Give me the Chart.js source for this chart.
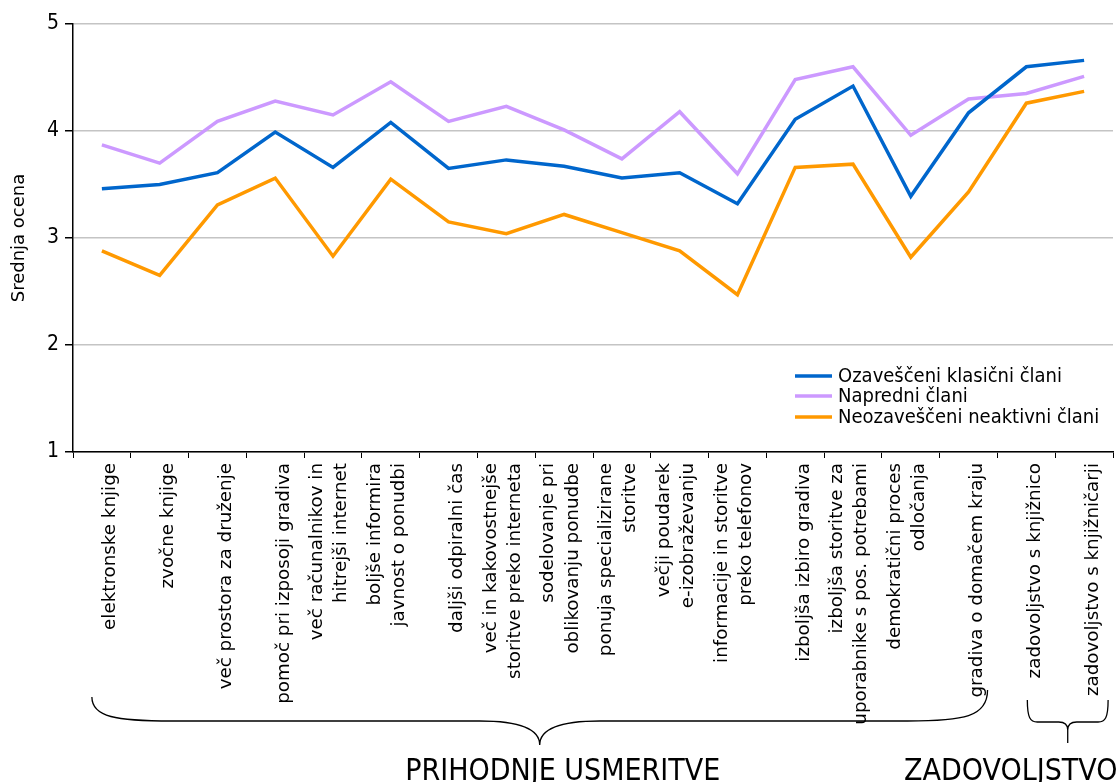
<!DOCTYPE html>
<html>
<head>
<meta charset="utf-8">
<script src="https://cdn.jsdelivr.net/npm/chart.js@4/dist/chart.umd.min.js"></script>
<style>
  html, body { margin: 0; padding: 0; background: #ffffff; }
  #wrap { width: 1119px; height: 782px; position: relative; }
</style>
</head>
<body>
<div id="wrap"><canvas id="chart" width="1119" height="782"></canvas></div>
<script>
// Categories (multi-line labels as arrays)
const categories = [
  'elektronske knjige',
  'zvočne knjige',
  'več prostora za druženje',
  'pomoč pri izposoji gradiva',
  ['več računalnikov in', 'hitrejši internet'],
  ['boljše informira', 'javnost o ponudbi'],
  'daljši odpiralni čas',
  ['več in kakovostnejše', 'storitve preko interneta'],
  ['sodelovanje pri', 'oblikovanju ponudbe'],
  ['ponuja specializirane', 'storitve'],
  ['večji poudarek', 'e-izobraževanju'],
  ['informacije in storitve', 'preko telefonov'],
  'izboljša izbiro gradiva',
  ['izboljša storitve za', 'uporabnike s pos. potrebami'],
  ['demokratični proces', 'odločanja'],
  'gradiva o domačem kraju',
  'zadovoljstvo s knjižnico',
  'zadovoljstvo s knjižničarji'
];

// Average scores per member segment
const ozavesceniKlasicni = [3.46, 3.50, 3.61, 3.99, 3.66, 4.08, 3.65, 3.73, 3.67, 3.56, 3.61, 3.32, 4.11, 4.42, 3.39, 4.17, 4.60, 4.66];
const napredni           = [3.87, 3.70, 4.09, 4.28, 4.15, 4.46, 4.09, 4.23, 4.01, 3.74, 4.18, 3.60, 4.48, 4.60, 3.96, 4.30, 4.35, 4.51];
const neozavesceni       = [2.88, 2.65, 3.31, 3.56, 2.83, 3.55, 3.15, 3.04, 3.22, 3.05, 2.88, 2.47, 3.66, 3.69, 2.82, 3.43, 4.26, 4.37];

const seriesNames = ['Ozaveščeni klasični člani', 'Napredni člani', 'Neozaveščeni neaktivni člani'];

// Groups of categories (first index, last index)
const groupNames = ['PRIHODNJE USMERITVE', 'ZADOVOLJSTVO'];
const groupFirst = [0, 16];
const groupLast  = [15, 17];

const yTicks = [1, 2, 3, 4, 5];

const FONT_ROT = "'DejaVu Sans', sans-serif";
const FONT_HOR = "'DejaVu Sans Condensed', 'DejaVu Sans', sans-serif";

// Legend inside the plot area plus the category group braces below the axis
const annotations = {
  id: 'annotations',
  afterDraw(chart) {
    const ctx = chart.ctx;
    const area = chart.chartArea;
    const xs = chart.scales.x;

    // legend
    ctx.save();
    ctx.font = '20px ' + FONT_HOR;
    ctx.textBaseline = 'middle';
    ctx.textAlign = 'left';
    const lx = area.right - 318;
    const rows = [area.bottom - 76, area.bottom - 56, area.bottom - 35];
    chart.data.datasets.forEach((ds, i) => {
      ctx.strokeStyle = ds.borderColor;
      ctx.lineWidth = 3.5;
      ctx.beginPath();
      ctx.moveTo(lx, rows[i]);
      ctx.lineTo(lx + 37, rows[i]);
      ctx.stroke();
      ctx.fillStyle = '#000';
      ctx.fillText(ds.label, lx + 43, rows[i] + 1);
    });
    ctx.restore();

    // braces
    const braceSpec = [
      { l: -10, r: 19, top: 697, topR: 690, mid: 721, tip: 745, cw: 80, tw: 60, th: 24, tx: 23 },
      { l: 1, r: 24, top: 700, topR: 700, mid: 722, tip: 743, cw: 10, tw: 9, th: 8, tx: -57 }
    ];
    ctx.save();
    ctx.strokeStyle = '#000';
    ctx.lineWidth = 1.3;
    groupNames.forEach((name, g) => {
      const s = braceSpec[g];
      const x0 = xs.getPixelForValue(groupFirst[g]) + s.l;
      const x1 = xs.getPixelForValue(groupLast[g]) + s.r;
      const xt = (x0 + x1) / 2;
      ctx.beginPath();
      ctx.moveTo(x0, s.top);
      ctx.bezierCurveTo(x0, s.mid - 4, x0 + s.cw * 0.3, s.mid, x0 + s.cw, s.mid);
      ctx.lineTo(xt - s.tw, s.mid);
      ctx.bezierCurveTo(xt - s.tw * 0.35, s.mid, xt, s.mid + s.th * 0.3, xt, s.mid + s.th);
      ctx.lineTo(xt, s.tip);
      ctx.moveTo(xt, s.mid + s.th);
      ctx.bezierCurveTo(xt, s.mid + s.th * 0.3, xt + s.tw * 0.35, s.mid, xt + s.tw, s.mid);
      ctx.lineTo(x1 - s.cw, s.mid);
      ctx.bezierCurveTo(x1 - s.cw * 0.3, s.mid, x1, s.mid - 4, x1, s.topR);
      ctx.stroke();

      ctx.fillStyle = '#000';
      ctx.font = '30px ' + FONT_HOR;
      ctx.textAlign = 'center';
      ctx.textBaseline = 'alphabetic';
      ctx.fillText(name, xt + s.tx, 780);
    });
    ctx.restore();
  }
};

new Chart(document.getElementById('chart'), {
  type: 'line',
  data: {
    labels: categories,
    datasets: [
      { label: seriesNames[0], data: ozavesceniKlasicni, borderColor: '#0066CC', backgroundColor: '#0066CC' },
      { label: seriesNames[1], data: napredni, borderColor: '#CC99FF', backgroundColor: '#CC99FF' },
      { label: seriesNames[2], data: neozavesceni, borderColor: '#FF9900', backgroundColor: '#FF9900' }
    ]
  },
  options: {
    responsive: false,
    animation: false,
    devicePixelRatio: 1,
    elements: {
      line: { borderWidth: 3.5, tension: 0, borderJoinStyle: 'miter' },
      point: { radius: 0, hoverRadius: 0 }
    },
    layout: { padding: { top: 24, right: 6, left: 0, bottom: 0 } },
    plugins: {
      legend: { display: false },
      tooltip: { enabled: false }
    },
    scales: {
      x: {
        offset: true,
        afterFit: s => { s.height = 330; s.paddingLeft = 0; s.paddingRight = 0; },
        border: { color: '#000', width: 1.5 },
        grid: { display: true, drawOnChartArea: false, drawTicks: true, tickLength: 6, color: '#000', offset: true },
        ticks: {
          autoSkip: false, maxRotation: 90, minRotation: 90, padding: 5, labelOffset: -15.5,
          color: '#000', font: { family: FONT_ROT, size: 18.3, lineHeight: 1.32 },
          // the last line of every label sits just right of its category
          callback: (v, i) => Array.isArray(categories[i]) ? categories[i] : ['', categories[i]]
        }
      },
      y: {
        min: 1, max: 5,
        afterFit: s => { s.width = 73; },
        afterBuildTicks: s => { s.ticks = yTicks.map(v => ({ value: v })); },
        border: { color: '#000', width: 1.5 },
        grid: { color: '#c4c4c4', lineWidth: 1.5, tickLength: 8, tickColor: '#000' },
        ticks: { color: '#000', padding: 6, font: { family: FONT_HOR, size: 21 } },
        title: {
          display: true, text: 'Srednja ocena', color: '#000', padding: { top: 9, bottom: 0 },
          font: { family: FONT_ROT, size: 18 }
        }
      }
    }
  },
  plugins: [annotations]
});
</script>
</body>
</html>
